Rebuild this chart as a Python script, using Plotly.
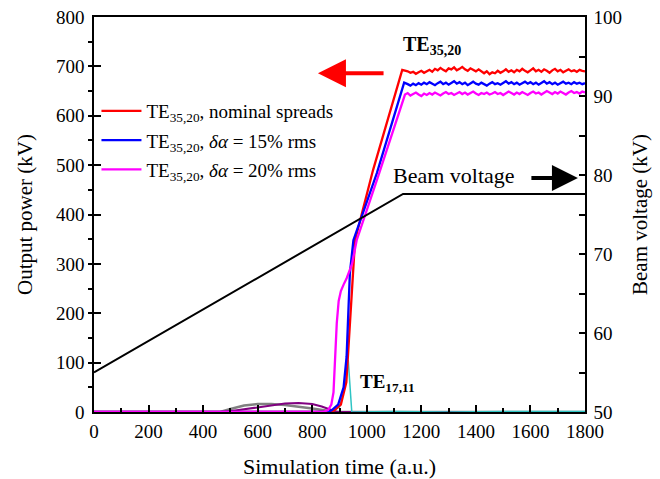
import plotly.graph_objects as go

# ---------------- data ----------------
# ramp portions (time, power)
red_t = [0, 860, 880, 905, 925, 938, 951, 957, 1023, 1130]
red_p = [0, 0, 3, 15, 60, 180, 281, 348, 490, 693]
blue_t = [0, 850, 870, 895, 915, 926, 938, 951, 1037, 1137]
blue_p = [0, 0, 3, 15, 50, 112, 281, 348, 484, 667]
mag_t = [0, 840, 858, 870, 878, 884, 890, 897, 905, 915, 927, 946, 963, 1041, 1140]
mag_p = [0, 0, 4, 15, 40, 110, 180, 225, 245, 258, 272, 300, 348, 476, 643]

# flat (saturated) portions sampled every 10 a.u. from 1150
flat_t0 = 1150
flat_dt = 10
red_flat = [690, 687, 689, 685, 688, 691, 687, 690, 693, 689, 695, 692, 697, 693, 690, 696,
            694, 698, 692, 695, 699, 694, 691, 696, 693, 690, 694, 689, 686, 690, 684, 688,
            686, 691, 687, 690, 694, 689, 692, 688, 693, 690, 695, 691, 688, 692, 696, 690,
            693, 689, 694, 691, 687, 692, 695, 690, 693, 688, 691, 694, 690, 692, 689, 693,
            691, 690]
blue_flat = [664, 661, 665, 662, 666, 663, 667, 664, 668, 665, 662, 666, 669, 664, 667, 663,
             666, 670, 665, 668, 664, 667, 662, 666, 669, 665, 663, 667, 664, 661, 665, 668,
             664, 666, 663, 667, 670, 665, 668, 664, 667, 663, 666, 669, 665, 668, 664, 667,
             663, 666, 670, 665, 668, 664, 667, 663, 666, 669, 665, 667, 664, 668, 665, 667,
             664, 666]
mag_flat = [646, 641, 644, 647, 643, 640, 645, 642, 646, 643, 647, 644, 641, 645, 648, 644,
            646, 642, 645, 648, 644, 647, 643, 646, 649, 645, 642, 646, 644, 647, 643, 645,
            648, 644, 646, 642, 645, 649, 646, 643, 647, 644, 648, 645, 642, 646, 649, 645,
            647, 643, 646, 650, 647, 644, 648, 645, 649, 646, 643, 647, 650, 646, 648, 645,
            649, 647]

# TE17,11 competing mode
cyan_t = [0, 870, 900, 920, 932, 945, 1100, 1300, 1500, 1700, 1800]
cyan_p = [0, 0, 10, 50, 105, 0, 1, 0, 1, 0, 1]
# low-level parasitic modes
gray_t = [0, 462, 500, 550, 600, 650, 700, 750, 800, 850, 900, 1800]
gray_p = [0, 0, 6, 13, 16, 16, 14, 11, 7, 3, 0, 0]
purple_t = [0, 475, 530, 590, 650, 700, 750, 800, 835, 865, 890, 1800]
purple_p = [0, 0, 4, 9, 14, 17, 18, 16, 11, 5, 0, 0]

# beam voltage (kV, right axis)
volt_t = [0, 1133, 1800]
volt_v = [55, 77.6, 77.6]

legend_names = ["TE<sub>35,20</sub>, nominal spreads",
                "TE<sub>35,20</sub>, <i>δα</i> = 15% rms",
                "TE<sub>35,20</sub>, <i>δα</i> = 20% rms"]


def full(t, p, flat):
    ft = [flat_t0 + i * flat_dt for i in range(len(flat))]
    return t + ft, p + flat


FONT = "Liberation Serif"
fig = go.Figure()

fig.add_trace(go.Scatter(x=gray_t, y=gray_p, mode="lines", line=dict(color="#808080", width=2.5),
                         showlegend=False))
fig.add_trace(go.Scatter(x=purple_t, y=purple_p, mode="lines", line=dict(color="#800080", width=2),
                         showlegend=False))
fig.add_trace(go.Scatter(x=cyan_t, y=cyan_p, mode="lines", line=dict(color="#2ec4c4", width=1.5),
                         showlegend=False))

rx, ry = full(red_t, red_p, red_flat)
bx, by = full(blue_t, blue_p, blue_flat)
mx, my = full(mag_t, mag_p, mag_flat)
fig.add_trace(go.Scatter(x=rx, y=ry, mode="lines", line=dict(color="#ff0000", width=2.3),
                         name=legend_names[0], legendgroup="a"))
fig.add_trace(go.Scatter(x=bx, y=by, mode="lines", line=dict(color="#0000ff", width=2.3),
                         name=legend_names[1], legendgroup="b"))
fig.add_trace(go.Scatter(x=mx, y=my, mode="lines", line=dict(color="#ff00ff", width=2.3),
                         name=legend_names[2], legendgroup="c"))

fig.add_trace(go.Scatter(x=volt_t, y=volt_v, mode="lines", line=dict(color="black", width=2),
                         yaxis="y2", showlegend=False))

axis_common = dict(showgrid=False, zeroline=False, showline=True, linecolor="black",
                   linewidth=1.5, tickcolor="black", tickwidth=1.5, automargin=False,
                   tickfont=dict(family=FONT, size=19, color="black"))

fig.update_layout(
    width=660, height=479,
    margin=dict(l=94, r=75, t=17, b=67),
    paper_bgcolor="white", plot_bgcolor="white",
    font=dict(family=FONT, size=19, color="black"),
    xaxis=dict(range=[0, 1800], dtick=200, ticks="inside", ticklen=7, mirror=True,
               ticklabelstandoff=1,
               minor=dict(dtick=100, ticks="inside", ticklen=4, tickcolor="black", tickwidth=1.5),
               title=dict(text="Simulation time (a.u.)", font=dict(family=FONT, size=22), standoff=21),
               **axis_common),
    yaxis=dict(range=[0, 800], dtick=100, ticks="inside", ticklen=7, ticklabelstandoff=4,
               minor=dict(dtick=50, ticks="outside", ticklen=4, tickcolor="black", tickwidth=1.5),
               title=dict(text="Output power (kV)", font=dict(family=FONT, size=21), standoff=18),
               **axis_common),
    yaxis2=dict(range=[50, 100], dtick=10, ticks="inside", ticklen=6, overlaying="y", side="right",
                ticklabelstandoff=3,
                minor=dict(dtick=5, ticks="inside", ticklen=6, tickcolor="black", tickwidth=1.5),
                title=dict(text="Beam voltage (kV)", font=dict(family=FONT, size=21), standoff=11),
                **axis_common),
    legend=dict(x=0.005, y=0.81, xanchor="left", yanchor="top", bgcolor="rgba(0,0,0,0)",
                font=dict(family=FONT, size=19), tracegroupgap=1.5, itemwidth=40),
    showlegend=True,
)

fig.add_annotation(x=1239, y=743, text="<b>TE<sub>35,20</sub></b>", showarrow=False,
                   font=dict(family=FONT, size=20))
fig.add_annotation(x=1075, y=59, text="<b>TE<sub>17,11</sub></b>", showarrow=False,
                   font=dict(family=FONT, size=19))
fig.add_annotation(x=1320, y=480, text="Beam voltage", showarrow=False,
                   font=dict(family=FONT, size=22))
# red arrow -> left axis
fig.add_annotation(x=821, y=686, ax=1067, ay=686, axref="x", ayref="y", xref="x", yref="y",
                   text="", showarrow=True, arrowhead=2, arrowsize=1.4, arrowwidth=4,
                   arrowcolor="#ff0000")
# black arrow -> right axis
fig.add_annotation(x=1774, y=474, ax=1598, ay=474, axref="x", ayref="y", xref="x", yref="y",
                   text="", showarrow=True, arrowhead=2, arrowsize=1.3, arrowwidth=4,
                   arrowcolor="black")

fig.write_html("out.html", config={"displayModeBar": False},
               post_script="document.body.style.margin='0';")
